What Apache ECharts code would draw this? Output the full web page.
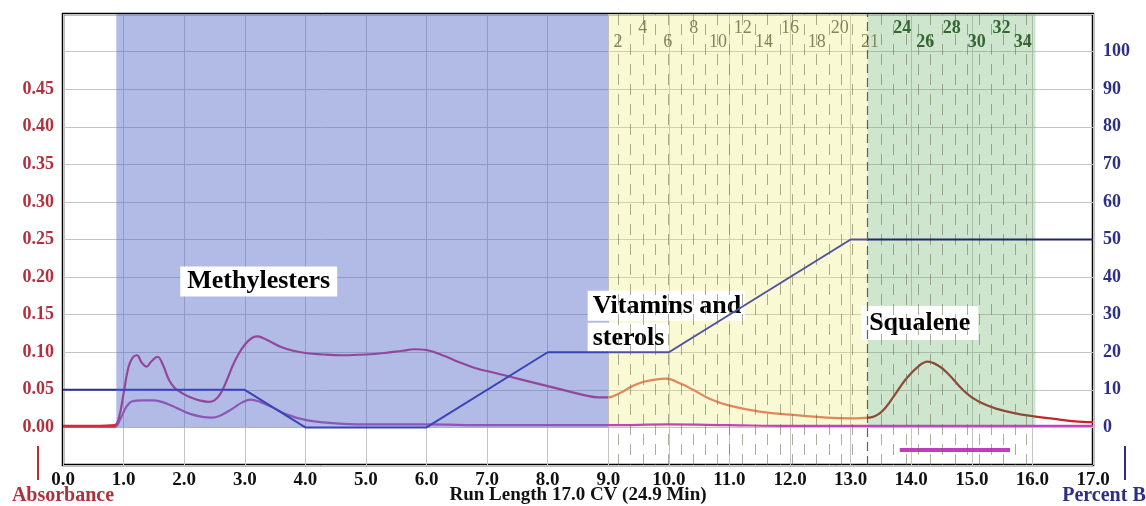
<!DOCTYPE html>
<html><head><meta charset="utf-8">
<script src="https://cdn.jsdelivr.net/npm/echarts@6/dist/echarts.min.js"></script>
<style>html,body{margin:0;padding:0;background:#fff}#c{width:1146px;height:506px}</style>
</head><body><div id="c"></div>
<script>
// ---------- data ----------
const mainCV = [0,0.5,0.85,0.92,1.0,1.08,1.15,1.22,1.3,1.38,1.46,1.56,1.65,1.75,1.85,1.98,2.1,2.25,2.4,2.5,2.6,2.7,2.8,2.9,3.0,3.1,3.2,3.3,3.45,3.6,3.8,4.0,4.3,4.6,5.0,5.3,5.6,5.8,6.0,6.3,6.5,6.8,7.1,7.4,7.7,8.0,8.3,8.6,8.85,9.0,9.2,9.4,9.6,9.8,9.95,10.2,10.4,10.7,11.0,11.5,12.0,12.6,13.0,13.3,13.5,13.7,13.9,14.1,14.27,14.45,14.6,14.85,15.0,15.2,15.4,15.7,16.0,16.4,16.7,17.0];
const mainAbs = [0.002,0.002,0.003,0.012,0.045,0.08,0.093,0.096,0.086,0.081,0.088,0.094,0.083,0.063,0.052,0.045,0.040,0.036,0.034,0.036,0.045,0.062,0.082,0.098,0.110,0.118,0.121,0.119,0.113,0.107,0.102,0.099,0.097,0.096,0.097,0.099,0.102,0.104,0.103,0.095,0.088,0.079,0.073,0.067,0.061,0.055,0.049,0.043,0.040,0.040,0.046,0.055,0.061,0.064,0.065,0.058,0.050,0.037,0.029,0.021,0.017,0.013,0.012,0.013,0.020,0.040,0.063,0.080,0.0875,0.082,0.072,0.050,0.040,0.031,0.025,0.019,0.015,0.011,0.008,0.007];
const lowCV = [0,0.85,0.95,1.05,1.15,1.3,1.5,1.7,1.9,2.1,2.3,2.45,2.6,2.8,2.95,3.1,3.25,3.45,3.7,4.0,4.4,5.0,6.0,7.0,8.0,9.0,10.0,11.0,12.0,13.0,14.0,15.0,16.0,17.0];
const lowAbs = [0.001,0.001,0.012,0.028,0.035,0.036,0.036,0.032,0.025,0.018,0.014,0.013,0.016,0.025,0.033,0.037,0.034,0.027,0.017,0.010,0.006,0.004,0.004,0.003,0.003,0.003,0.004,0.003,0.002,0.002,0.002,0.002,0.002,0.002];
const gradientCV = [0,3,4,6,8,10,13,17];
const gradientB  = [10,10,0,0,20,20,50,50];

const regionNames   = ['Methylesters','Vitamins and sterols','Squalene'];
const regionStartCV = [0.88, 9.0, 13.28];
const regionEndCV   = [9.0, 13.28, 16.05];

const fractionLabels  = ['2','4','6','8','10','12','14','16','18','20','21','24','26','28','30','32','34'];
const fractionLabelCV = [9.16,9.57,9.98,10.41,10.81,11.22,11.57,12.0,12.44,12.82,13.32,13.85,14.23,14.67,15.08,15.49,15.84];
const fractionBoundaryCV = [9.16,9.37,9.57,9.78,9.99,10.2,10.4,10.6,10.8,11.0,11.21,11.42,11.62,11.83,12.03,12.23,12.44,12.65,12.84,13.03,13.51,13.71,13.91,14.12,14.32,14.52,14.72,14.92,15.12,15.32,15.52,15.72,15.9];
const collectCV = [13.81, 15.63];
const collectLevel = [-0.03, -0.03];

const xTickLabels = ['0.0','1.0','2.0','3.0','4.0','5.0','6.0','7.0','8.0','9.0','10.0','11.0','12.0','13.0','14.0','15.0','16.0','17.0'];
const absTickLabels = ['0.00','0.05','0.10','0.15','0.20','0.25','0.30','0.35','0.40','0.45'];
const pctTickLabels = ['0','10','20','30','40','50','60','70','80','90','100'];

// ---------- chart ----------
const serif = '"Liberation Serif", "Times New Roman", serif';
const pair = (xs, ys) => xs.map((x, i) => [x, ys[i]]);
const regionColors = ['rgba(85,105,200,0.45)', 'rgba(235,235,110,0.30)', 'rgba(105,180,105,0.33)'];

const chart = echarts.init(document.getElementById('c'));
const option = {
  animation: false,
  backgroundColor: '#fff',
  grid: { left: 63, right: 53, top: 14, bottom: 41, show: true, borderColor: '#000', borderWidth: 2.5, backgroundColor: '#fff', containLabel: false, outerBoundsMode: 'none' },
  xAxis: {
    type: 'value', min: 0, max: 17, interval: 1,
    axisLine: { show: false }, axisTick: { show: false },
    splitLine: { show: true, lineStyle: { color: '#c4c4c4', width: 1 } },
    axisLabel: { margin: 6, fontFamily: serif, fontWeight: 'bold', fontSize: 19, color: '#111',
      formatter: v => xTickLabels[Math.round(v)] || '' },
    name: 'Run Length 17.0 CV (24.9 Min)', nameLocation: 'middle', nameGap: 21, nameMoveOverlap: false,
    nameTextStyle: { fontFamily: serif, fontWeight: 'bold', fontSize: 19, color: '#111', verticalAlign: 'top' }
  },
  yAxis: [{
    type: 'value', min: -0.05, max: 0.55, interval: 0.05, position: 'left',
    axisLine: { show: false }, axisTick: { show: false },
    splitLine: { show: true, lineStyle: { color: '#c4c4c4', width: 1 } },
    axisLabel: { margin: 9, fontFamily: serif, fontWeight: 'bold', fontSize: 18, color: '#b0303e',
      formatter: v => { const s = (Math.round(v * 100) / 100).toFixed(2); return absTickLabels.includes(s) ? s : ''; } },
    name: 'Absorbance', nameLocation: 'start', nameGap: 21, nameMoveOverlap: false,
    nameTextStyle: { fontFamily: serif, fontWeight: 'bold', fontSize: 20, color: '#b0303e' }
  }, {
    type: 'value', min: -10, max: 110, interval: 10, position: 'right',
    axisLine: { show: false }, axisTick: { show: false }, splitLine: { show: false },
    axisLabel: { margin: 10, fontFamily: serif, fontWeight: 'bold', fontSize: 18, color: '#2d2f86',
      formatter: v => { const s = String(Math.round(v)); return pctTickLabels.includes(s) ? s : ''; } },
    name: 'Percent B', nameLocation: 'start', nameGap: 21, nameMoveOverlap: false,
    nameTextStyle: { fontFamily: serif, fontWeight: 'bold', fontSize: 20, color: '#2d2f86', padding: [0, 0, 0, 22] }
  }],
  visualMap: [
    { type: 'piecewise', show: false, dimension: 0, seriesIndex: 3, pieces: [
      { lt: regionStartCV[0], color: '#d42a3c' },
      { gte: regionStartCV[0], lt: regionEndCV[0], color: '#93479c' },
      { gte: regionStartCV[1], lt: regionEndCV[1], color: '#e2875c' },
      { gte: regionStartCV[2], lt: regionEndCV[2], color: '#8e4a34' },
      { gte: regionEndCV[2], color: '#c8232a' } ] },
    { type: 'piecewise', show: false, dimension: 0, seriesIndex: 2, pieces: [
      { lt: regionStartCV[0], color: '#d42a3c' },
      { gte: regionStartCV[0], lt: regionEndCV[0], color: '#8a58b6' },
      { gte: regionEndCV[0], color: '#c043c0' } ] },
    { type: 'piecewise', show: false, dimension: 0, seriesIndex: 5, pieces: [
      { lt: regionStartCV[0], color: '#2d2f8f' },
      { gte: regionStartCV[0], lt: regionEndCV[0], color: '#3a44b8' },
      { gte: regionStartCV[1], lt: regionEndCV[1], color: '#4f539e' },
      { gte: regionStartCV[2], color: '#22246e' } ] }
  ],
  series: [
    { // shaded fraction regions
      type: 'scatter', z: 1, silent: true, symbolSize: 0, data: [[0, 0]],
      markArea: { silent: true, label: { show: false },
        data: regionNames.map((n, i) => [
          { xAxis: regionStartCV[i], yAxis: 0, itemStyle: { color: regionColors[i] } },
          { xAxis: regionEndCV[i], yAxis: 0.55 } ]) }
    },
    { // fraction tube boundaries
      type: 'scatter', z: 1, silent: true, symbolSize: 0, data: [[0, 0]],
      markLine: { silent: true, symbol: ['none', 'none'], label: { show: false },
        data: fractionBoundaryCV.map((v, i) => ({ xAxis: v, lineStyle: { type: [11, 9], dashOffset: (i % 2) * 10, color: 'rgba(105,105,80,0.55)', width: 1 } }))
          .concat([{ xAxis: regionStartCV[2], lineStyle: { type: [9, 5], color: 'rgba(60,60,60,0.8)', width: 1.2 } }]) }
    },
    { name: 'low', type: 'line', z: 3, showSymbol: false, smooth: 0.4, data: pair(lowCV, lowAbs), lineStyle: { width: 2.2 } },
    { name: 'main', type: 'line', z: 3, showSymbol: false, smooth: 0.4, data: pair(mainCV, mainAbs), lineStyle: { width: 2.2 } },
    { // annotations
      type: 'scatter', z: 4, silent: true, symbolSize: 0, itemStyle: { opacity: 1 },
      label: { show: true, position: 'inside', fontFamily: serif, fontWeight: 'bold', fontSize: 26, color: '#000', opacity: 1 },
      data: [
        { value: [3.23, 0.194], label: { formatter: regionNames[0], backgroundColor: '#fff', padding: [3, 7, 1, 7] } },
        { value: [8.66, 0.183], label: { align: 'left', verticalAlign: 'top', formatter: '{a|Vitamins and}\n{b|sterols}',
            rich: { a: { fontFamily: serif, fontWeight: 'bold', fontSize: 26, color: '#000', backgroundColor: '#fff', padding: [2, 4, 2, 5], lineHeight: 32 },
                    b: { fontFamily: serif, fontWeight: 'bold', fontSize: 26, color: '#000', backgroundColor: '#fff', padding: [2, 4, 2, 5], lineHeight: 32 } } } },
        { value: [14.14, 0.139], label: { formatter: regionNames[2], backgroundColor: '#fff', padding: [4, 8, 4, 8] } }
      ]
    },
    { name: 'Percent B', type: 'line', yAxisIndex: 1, z: 5, showSymbol: false, data: pair(gradientCV, gradientB), lineStyle: { width: 2 } },
    { // fraction numbers
      type: 'scatter', z: 4, silent: true, symbolSize: 0, itemStyle: { opacity: 1 },
      data: fractionLabels.map((t, i) => {
        const green = Number(t) > 21;
        return { value: [fractionLabelCV[i], i % 2 === 0 ? 0.512 : 0.531], name: t,
          label: { show: true, position: 'inside', formatter: t, fontFamily: serif, fontSize: 18, opacity: 1,
            fontWeight: green ? 'bold' : 'normal', color: green ? '#336633' : '#85855c' } };
      })
    },
    { // collection bar
      type: 'line', z: 3, showSymbol: false, silent: true, data: pair(collectCV, collectLevel),
      lineStyle: { color: '#c23cc2', width: 4 }
    }
  ],
  graphic: [
    { type: 'line', shape: { x1: 38, y1: 446, x2: 38, y2: 480 }, style: { stroke: '#b0303e', lineWidth: 2 } },
    { type: 'line', shape: { x1: 1125, y1: 446, x2: 1125, y2: 480 }, style: { stroke: '#2d2f86', lineWidth: 2 } }
  ]
};
chart.setOption(option);
</script>
</body></html>
